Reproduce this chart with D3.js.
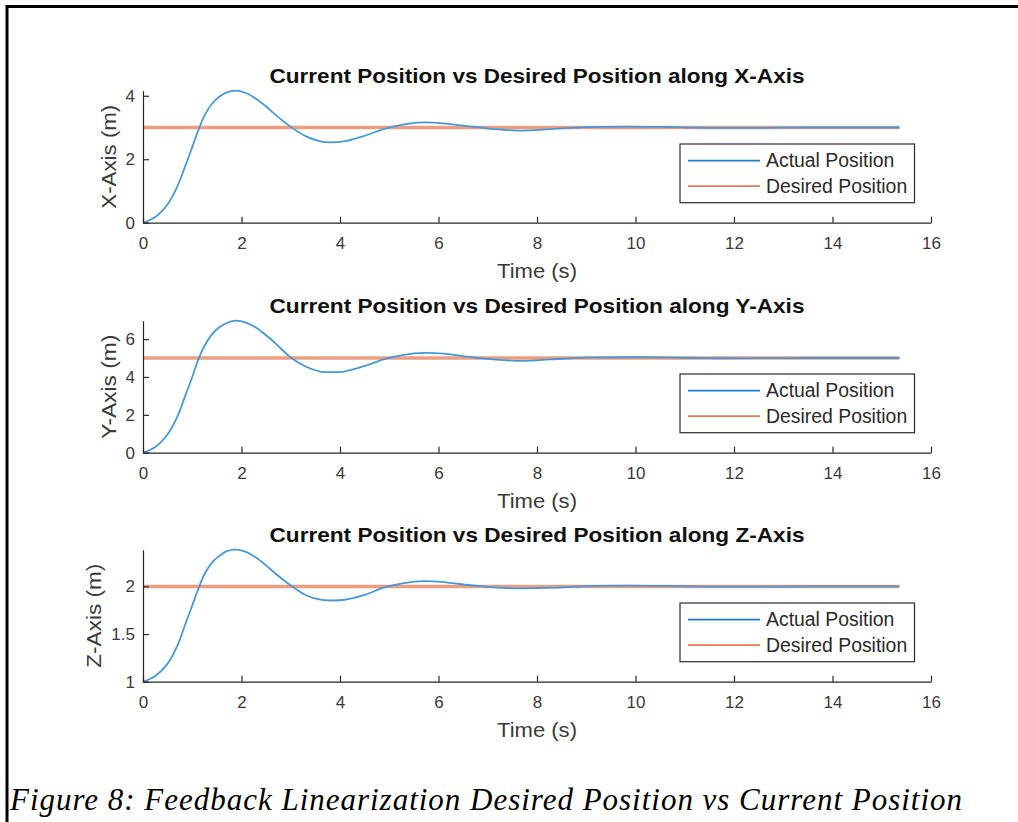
<!DOCTYPE html>
<html>
<head>
<meta charset="utf-8">
<script src="https://cdn.jsdelivr.net/npm/d3@7"></script>
<style>
  html, body { margin: 0; padding: 0; background: #fff; }
  svg { display: block; }
  .sans { font-family: "Liberation Sans", Arimo, Arial, Helvetica, sans-serif; }
  .serif { font-family: "Liberation Serif", Tinos, "Times New Roman", Times, serif; }
</style>
</head>
<body>
<svg id="fig" width="1018" height="822"></svg>
<script>
// Simulation samples: time stamps and the measured position on each axis
const timeSec = [0, 0.25, 0.5, 0.7, 0.85, 1.0, 1.12, 1.25, 1.4, 1.55, 1.7, 1.9, 2.1, 2.3, 2.5, 2.7, 3.0, 3.3, 3.6, 3.8,
  4.1, 4.5, 4.9, 5.3, 5.7, 6.1, 6.5, 6.9, 7.3, 7.6, 8.0, 8.5, 9.0, 9.8, 10.5, 11.5, 12.5, 13.5, 14.5, 15.36];

const xActual = [0, 0.18, 0.58, 1.15, 1.75, 2.38, 2.9, 3.38, 3.75, 3.97, 4.11, 4.16, 4.08, 3.9, 3.66, 3.39, 3.02, 2.73, 2.56, 2.53,
  2.57, 2.74, 2.96, 3.1, 3.16, 3.13, 3.06, 2.99, 2.93, 2.9, 2.92, 2.97, 3.01, 3.03, 3.02, 2.99, 2.99, 3.0, 3.0, 3.0];

const yActual = [0, 0.3, 0.97, 1.92, 2.95, 4.0, 4.9, 5.65, 6.25, 6.62, 6.85, 6.97, 6.85, 6.6, 6.2, 5.75, 5.03, 4.55, 4.28, 4.25,
  4.3, 4.58, 4.94, 5.17, 5.27, 5.23, 5.1, 4.98, 4.89, 4.85, 4.88, 4.96, 5.02, 5.04, 5.03, 4.99, 4.99, 5.0, 5.0, 5.0];

const zActual = [1, 1.06, 1.19, 1.38, 1.59, 1.8, 1.97, 2.13, 2.25, 2.32, 2.37, 2.385, 2.36, 2.3, 2.22, 2.13, 2.01, 1.91, 1.86, 1.852,
  1.86, 1.91, 1.99, 2.035, 2.055, 2.045, 2.02, 2.0, 1.985, 1.98, 1.983, 1.99, 2.003, 2.008, 2.005, 1.998, 1.998, 2.0, 2.0, 2.0];

const desiredPos = [3, 5, 2];
const axisNames = ["X", "Y", "Z"];
const yTickValues = [[0, 2, 4], [0, 2, 4, 6], [1, 1.5, 2]];
const xTickValues = [0, 2, 4, 6, 8, 10, 12, 14, 16];
const legendLabels = ["Actual Position", "Desired Position"];
const captionText = "Figure 8: Feedback Linearization Desired Position vs Current Position";

const actualSeries = [xActual, yActual, zActual];

const svg = d3.select("#fig");
const axisColor = "#262626";
const textColor = "#3a3a3a";
const blue = "#4898d8";
const orange = "#ec9e80";

// page frame (top and left rules)
svg.append("line").attr("x1", 7).attr("x2", 1018).attr("y1", 6.5).attr("y2", 6.5)
  .attr("stroke", "#000").attr("stroke-width", 3);
svg.append("line").attr("x1", 7).attr("x2", 7).attr("y1", 5).attr("y2", 822)
  .attr("stroke", "#000").attr("stroke-width", 3);

const plotLeft = 143, plotRight = 931, plotHeight = 132;
const plotBottoms = [222.7, 452.7, 681.7];

const x = d3.scaleLinear().domain([0, 16]).range([plotLeft, plotRight]);

actualSeries.forEach((series, i) => {
  const bottom = plotBottoms[i];
  const top = bottom - plotHeight;
  const ext = d3.extent(series.concat([desiredPos[i]]));
  const y = d3.scaleLinear().domain(ext).range([bottom, top]);
  const g = svg.append("g").attr("class", "sans");

  // desired set-point
  const desiredLine = [[timeSec[0], desiredPos[i]], [timeSec[timeSec.length - 1], desiredPos[i]]];
  g.append("path")
    .attr("d", d3.line().x(d => x(d[0])).y(d => y(d[1]))(desiredLine))
    .attr("fill", "none").attr("stroke", orange).attr("stroke-width", 3.5);

  // measured trajectory
  const pts = timeSec.map((t, k) => [t, series[k]]);
  g.append("path")
    .attr("d", d3.line().curve(d3.curveCatmullRom.alpha(0.5)).x(d => x(d[0])).y(d => y(d[1]))(pts))
    .attr("fill", "none").attr("stroke", blue).attr("stroke-width", 1.8);

  // x axis (ticks pointing inward)
  const xAxis = g.append("g").attr("transform", `translate(0,${bottom})`)
    .call(d3.axisBottom(x).tickValues(xTickValues).tickSizeInner(-6).tickSizeOuter(0).tickPadding(14));
  xAxis.attr("font-family", null).attr("font-size", null);
  xAxis.select(".domain").attr("stroke", axisColor).attr("stroke-width", 1.2);
  xAxis.selectAll(".tick line").attr("stroke", axisColor).attr("stroke-width", 1.2);
  xAxis.selectAll(".tick text")
    .attr("fill", textColor).style("font-size", "17px").attr("y", 26.5).attr("dy", 0);

  // y axis
  const yAxis = g.append("g").attr("transform", `translate(${plotLeft},0)`)
    .call(d3.axisLeft(y).tickValues(yTickValues[i]).tickFormat(d3.format("")).tickSizeInner(-6).tickSizeOuter(0).tickPadding(9));
  yAxis.attr("font-family", null).attr("font-size", null);
  yAxis.select(".domain").attr("stroke", axisColor).attr("stroke-width", 1.2);
  yAxis.selectAll(".tick line").attr("stroke", axisColor).attr("stroke-width", 1.2);
  yAxis.selectAll(".tick text")
    .attr("fill", textColor).style("font-size", "17px").attr("x", -8);

  // widest y tick label decides where the axis name sits
  let tickLeft = plotLeft;
  yAxis.selectAll(".tick text").each(function () {
    const b = this.getBBox();
    tickLeft = Math.min(tickLeft, plotLeft + b.x);
  });

  // title
  g.append("text")
    .attr("x", (plotLeft + plotRight) / 2).attr("y", top - 8)
    .attr("text-anchor", "middle")
    .style("font-weight", "bold").style("font-size", "20.5px").attr("fill", "#111")
    .attr("textLength", 535).attr("lengthAdjust", "spacingAndGlyphs")
    .text(`Current Position vs Desired Position along ${axisNames[i]}-Axis`);

  // x label
  g.append("text")
    .attr("x", (plotLeft + plotRight) / 2).attr("y", bottom + 55.5)
    .attr("text-anchor", "middle")
    .style("font-size", "20.5px").attr("fill", textColor)
    .attr("textLength", 80).attr("lengthAdjust", "spacingAndGlyphs")
    .text("Time (s)");

  // y label
  g.append("text")
    .attr("transform", `translate(${tickLeft - 10},${(top + bottom) / 2}) rotate(-90)`)
    .attr("text-anchor", "middle")
    .style("font-size", "20.5px").attr("fill", textColor)
    .attr("textLength", 104).attr("lengthAdjust", "spacingAndGlyphs")
    .text(`${axisNames[i]}-Axis (m)`);

  // legend
  const lg = g.append("g").attr("transform", `translate(680,${bottom - 78.7})`);
  lg.append("rect").attr("x", 0).attr("y", 0).attr("width", 234.5).attr("height", 58.7)
    .attr("fill", "#fff").attr("stroke", "#2a2a2a").attr("stroke-width", 1.2);
  const legendColors = ["#1f7ccc", "#e27a55"];
  legendLabels.forEach((lab, k) => {
    const ry = 16.7 + k * 25.5;
    lg.append("line").attr("x1", 8).attr("x2", 80).attr("y1", ry).attr("y2", ry)
      .attr("stroke", legendColors[k]).attr("stroke-width", 1.8);
    lg.append("text").attr("x", 86).attr("y", ry).attr("dy", "0.35em")
      .style("font-size", "19.4px").attr("fill", "#2a2a2a")
      .text(lab);
  });
});

// figure caption
svg.append("text")
  .attr("class", "serif")
  .attr("x", 10).attr("y", 810)
  .style("font-style", "italic").style("font-size", "31px").attr("fill", "#000")
  .attr("textLength", 952).attr("lengthAdjust", "spacing")
  .text(captionText);
</script>
</body>
</html>
